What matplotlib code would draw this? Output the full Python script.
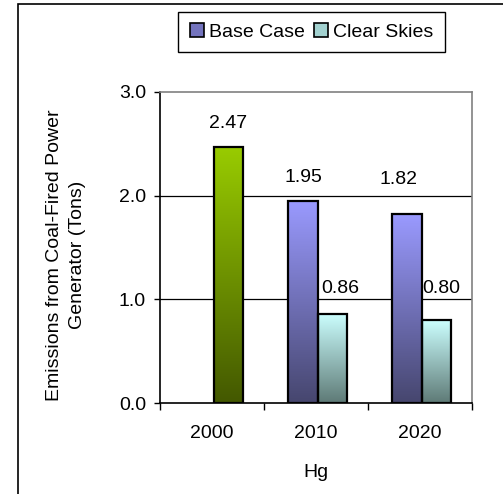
import numpy as np
import matplotlib.pyplot as plt
from matplotlib.patches import Rectangle
from matplotlib.colors import LinearSegmentedColormap

plt.rcParams['font.family'] = ['Liberation Sans', 'DejaVu Sans']
plt.rcParams['font.size'] = 14

years = ['2000', '2010', '2020']
base_case = [2.47, 1.95, 1.82]      # 2000 is the historical value
clear_skies = [None, 0.86, 0.80]
series = ['Base Case', 'Clear Skies']

# gradient colours, top -> bottom
grad_base = ['#9a9aff', '#46466e']
grad_clear = ['#ccffff', '#5e7a76']
grad_hist = ['#99cc00', '#435800']

W, H = 503, 494
fig = plt.figure(figsize=(W / 100, H / 100), dpi=100)
ax = fig.add_axes([160 / W, 1 - 403 / H, 312 / W, 311 / H])

# outer frame (left + top only visible)
fig.patches.append(Rectangle((17.5 / W, -0.1), 1.2, 1 - 4.5 / H + 0.1,
                             transform=fig.transFigure, fill=False,
                             edgecolor='black', linewidth=1.2, zorder=0))

x = np.arange(len(years))
bw = 0.28


def grad_bar(xc, h, colors):
    b = ax.bar(xc, h, bw, facecolor='none', edgecolor='black',
               linewidth=1.6, zorder=3)[0]
    cmap = LinearSegmentedColormap.from_list('g', colors[::-1])
    img = ax.imshow(np.linspace(0, 1, 256).reshape(-1, 1), cmap=cmap,
                    extent=[xc - bw / 2, xc + bw / 2, 0, h], origin='lower',
                    aspect='auto', zorder=2)
    img.set_clip_path(b)
    return b


bars = []
bars.append(grad_bar(x[0] + 0.155, base_case[0], grad_hist))
for i in (1, 2):
    bars.append(grad_bar(x[i] - 0.125, base_case[i], grad_base))
    bars.append(grad_bar(x[i] + 0.155, clear_skies[i], grad_clear))

# value labels, offsets in points
label_vals = [base_case[0], base_case[1], clear_skies[1], base_case[2], clear_skies[2]]
label_off = [(0, 17), (0, 17), (6, 18), (-6, 25), (4, 23)]
for b, v, off in zip(bars, label_vals, label_off):
    ax.annotate(f'{v:.2f}', (b.get_x() + b.get_width() / 2, v),
                xytext=off, textcoords='offset points',
                ha='center', va='center', zorder=4)

ax.set_xlim(-0.5, 2.5)
ax.set_ylim(0, 3.0)
ax.set_yticks([0, 1, 2, 3])
ax.set_yticklabels(['0.0', '1.0', '2.0', '3.0'])
ax.set_xticks(x)
ax.set_xticklabels(years)
ax.set_xticks([-0.5, 0.5, 1.5, 2.5], minor=True)
ax.tick_params(axis='x', which='major', length=0, pad=16)
ax.tick_params(axis='x', which='minor', length=5, width=1, direction='out')
ax.tick_params(axis='y', length=4, width=1, direction='out', pad=6)

for yv in (1, 2):
    ax.axhline(yv, color='black', linewidth=0.9, zorder=1)

ax.spines['left'].set_color('black')
ax.spines['bottom'].set_color('black')
ax.spines['top'].set_color('#808080')
ax.spines['right'].set_color('#808080')
for s in ax.spines.values():
    s.set_linewidth(1.2)

ax.set_xlabel('Hg', labelpad=16)
fig.text(66 / W, 1 - 255 / H, 'Emissions from Coal-Fired Power\nGenerator (Tons)',
         rotation=90, ha='center', va='center', linespacing=1.5)

handles = [Rectangle((0, 0), 1, 1, facecolor='#7373bd', edgecolor='black', linewidth=1.2),
           Rectangle((0, 0), 1, 1, facecolor='#a3d2d0', edgecolor='black', linewidth=1.2)]
leg = fig.legend(handles, series, loc='center', bbox_to_anchor=(311.5 / W, 1 - 32 / H),
                 ncol=2, fancybox=False, edgecolor='black', framealpha=1,
                 handlelength=0.7, handleheight=0.7, handletextpad=0.25,
                 columnspacing=0.5, borderpad=0.6, borderaxespad=0)
leg.get_frame().set_linewidth(1.0)

fig.savefig('out.png', dpi=100)
